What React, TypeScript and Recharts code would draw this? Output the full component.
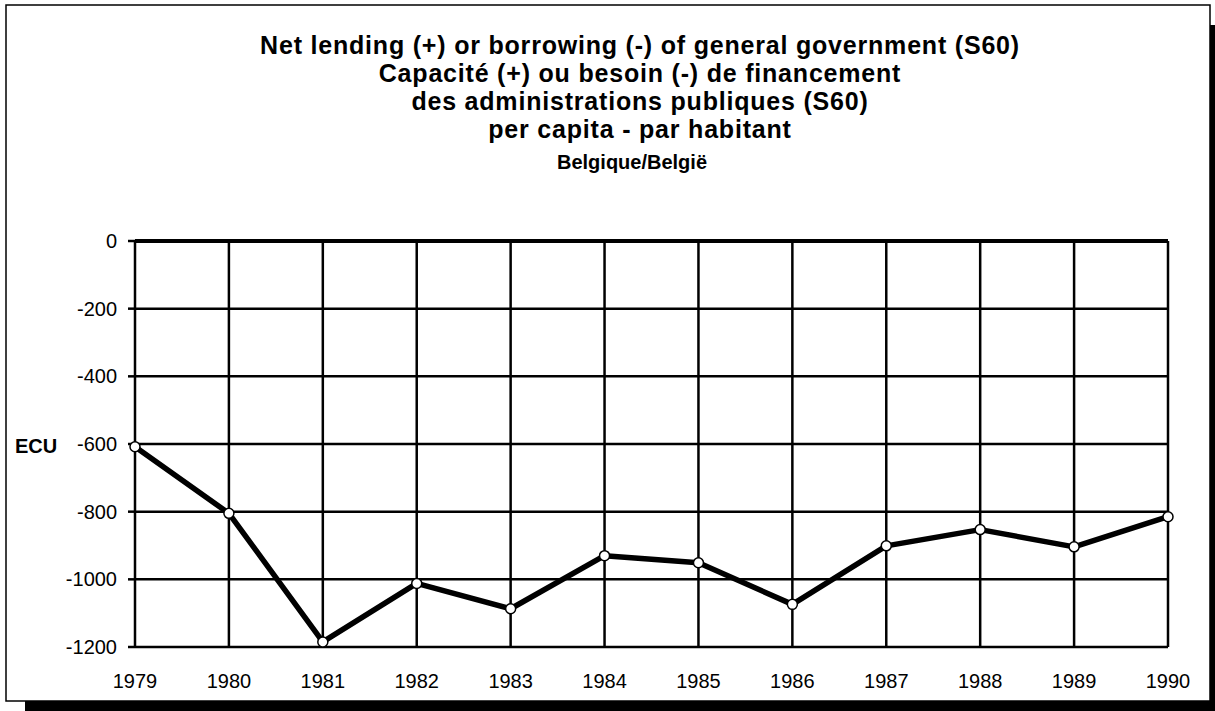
import React from "react";
import { CartesianGrid, Line, LineChart, ReferenceLine, XAxis, YAxis } from "recharts";

const years = [1979, 1980, 1981, 1982, 1983, 1984, 1985, 1986, 1987, 1988, 1989, 1990];
const netLending = [-608, -805, -1185, -1012, -1087, -930, -951, -1074, -901, -853, -904, -815];
const yTicks = [0, -200, -400, -600, -800, -1000, -1200];
const titleLines = [
  "Net lending (+) or borrowing (-) of general government (S60)",
  "Capacité (+) ou besoin (-) de financement",
  "des administrations publiques (S60)",
  "per capita - par habitant"
];
const subtitle = "Belgique/België";
const unitLabel = "ECU";

const data = years.map((year, i) => ({ year, value: netLending[i] }));

const font = "'Liberation Sans', Arial, Helvetica, sans-serif";

export default function App() {
  return (
    <div style={{ position: "absolute", left: 0, top: 0, width: 1215, height: 711, background: "#fff" }}>
      <svg width={1215} height={711} style={{ position: "absolute", left: 0, top: 0 }}>
        <rect x={25} y={701} width={1190} height={10} fill="#000" />
        <rect x={1210} y={25} width={5} height={686} fill="#000" />
        <rect x={6} y={5} width={1204} height={696} fill="#fff" stroke="#000" strokeWidth={1.5} />
        {titleLines.map((line, i) => (
          <text
            key={line}
            x={640}
            y={54 + i * 28}
            textAnchor="middle"
            fontFamily={font}
            fontWeight="bold"
            fontSize={25}
            letterSpacing={0.8}
            fill="#000"
          >
            {line}
          </text>
        ))}
        <text x={632} y={169} textAnchor="middle" fontFamily={font} fontWeight="bold" fontSize={20} fill="#000">
          {subtitle}
        </text>
        <text x={15} y={453} fontFamily={font} fontWeight="bold" fontSize={20} fill="#000">
          {unitLabel}
        </text>
      </svg>
      <div style={{ position: "absolute", left: 0, top: 0 }}>
        <LineChart width={1215} height={711} data={data} margin={{ top: 241, right: 47, bottom: 0, left: 0 }}>
          <CartesianGrid stroke="#000" strokeWidth={2.5} />
          <XAxis
            dataKey="year"
            type="number"
            domain={[1979, 1990]}
            ticks={years}
            height={64}
            axisLine={false}
            tickLine={false}
            tickSize={0}
            tickMargin={27}
            tick={{ fill: "#000", fontSize: 20, fontFamily: font }}
          />
          <YAxis
            type="number"
            domain={[-1200, 0]}
            ticks={yTicks}
            width={135}
            axisLine={false}
            tickSize={7}
            tickMargin={11}
            tickLine={{ stroke: "#000", strokeWidth: 2.5 }}
            tick={{ fill: "#000", fontSize: 20, fontFamily: font }}
          />
          <ReferenceLine y={0} stroke="#000" strokeWidth={4} />
          <Line
            dataKey="value"
            stroke="#000"
            strokeWidth={5.5}
            strokeLinejoin="round"
            dot={{ r: 5, fill: "#fff", stroke: "#000", strokeWidth: 1.5 }}
            isAnimationActive={false}
          />
        </LineChart>
      </div>
    </div>
  );
}
